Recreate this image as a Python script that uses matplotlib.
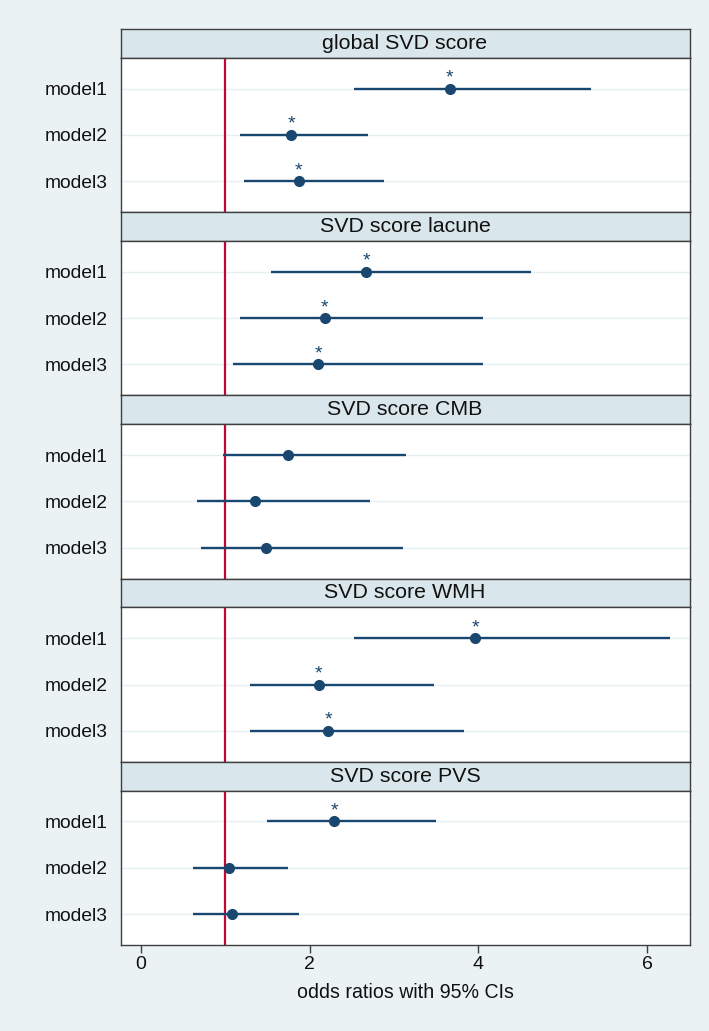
import matplotlib
matplotlib.use("Agg")
import matplotlib.pyplot as plt

plt.rcParams['font.family'] = ['Liberation Sans', 'DejaVu Sans']

# ---- data ----
panels = ["global SVD score", "SVD score lacune", "SVD score CMB",
          "SVD score WMH", "SVD score PVS"]
models = ["model1", "model2", "model3"]

or_global = [3.66, 1.78, 1.87]
lo_global = [2.52, 1.17, 1.22]
hi_global = [5.33, 2.69, 2.88]
sig_global = [True, True, True]

or_lacune = [2.67, 2.18, 2.10]
lo_lacune = [1.54, 1.18, 1.09]
hi_lacune = [4.62, 4.05, 4.05]
sig_lacune = [True, True, True]

or_cmb = [1.75, 1.35, 1.48]
lo_cmb = [0.98, 0.67, 0.71]
hi_cmb = [3.14, 2.72, 3.11]
sig_cmb = [False, False, False]

or_wmh = [3.96, 2.11, 2.22]
lo_wmh = [2.52, 1.29, 1.29]
hi_wmh = [6.27, 3.47, 3.83]
sig_wmh = [True, True, True]

or_pvs = [2.29, 1.05, 1.08]
lo_pvs = [1.50, 0.62, 0.62]
hi_pvs = [3.50, 1.75, 1.88]
sig_pvs = [True, False, False]

x_ticks = [0, 2, 4, 6]
ref_value = 1
x_label = "odds ratios with 95% CIs"

series = [
    (or_global, lo_global, hi_global, sig_global),
    (or_lacune, lo_lacune, hi_lacune, sig_lacune),
    (or_cmb, lo_cmb, hi_cmb, sig_cmb),
    (or_wmh, lo_wmh, hi_wmh, sig_wmh),
    (or_pvs, lo_pvs, hi_pvs, sig_pvs),
]

# ---- style ----
W, H = 709, 1031
BG = '#EAF2F3'
STRIP = '#D9E6EB'
NAVY = '#1A476F'
RED = '#C10534'
EDGE = '#3F3F3F'
GRID = '#E6EFF2'
TXT = '#111111'

fig = plt.figure(figsize=(W / 100, H / 100), dpi=100, facecolor=BG)

left_px, right_px = 120.5, 689.5
first_top = 29.0
period = 183.2
strip_h = 28.7

rows = [1, 2, 3]
for i, (title, (ors, los, his, sig)) in enumerate(zip(panels, series)):
    top = first_top + period * i
    # strip
    sax = fig.add_axes([left_px / W, 1 - (top + strip_h) / H,
                        (right_px - left_px) / W, strip_h / H])
    sax.set_facecolor(STRIP)
    sax.set_xticks([])
    sax.set_yticks([])
    for sp in sax.spines.values():
        sp.set_color(EDGE)
        sp.set_linewidth(1.0)
    sax.text(0.5, 0.5, title, ha='center', va='center', fontsize=15.4,
             color=TXT, transform=sax.transAxes)

    # plot area
    ax = fig.add_axes([left_px / W, 1 - (top + period) / H,
                       (right_px - left_px) / W, (period - strip_h) / H])
    ax.set_facecolor('white')
    ax.set_xlim(-0.24, 6.50)
    ax.set_ylim(3.67, 0.33)
    for r in rows:
        ax.axhline(r, color=GRID, lw=1.0, zorder=0)
    ax.axvline(ref_value, color=RED, lw=1.6, zorder=1)
    ax.hlines(rows, los, his, color=NAVY, lw=1.7, zorder=2)
    ax.plot(ors, rows, 'o', color=NAVY, ms=7.0, zorder=3)
    for r, x, s in zip(rows, ors, sig):
        if s:
            ax.text(x, r - 0.13, '*', ha='center', va='baseline',
                    fontsize=14, color=NAVY, zorder=4)
    ax.set_yticks(rows)
    ax.set_yticklabels(models, fontsize=13.9, color=TXT)
    ax.tick_params(axis='y', length=0, pad=9)
    for sp in ax.spines.values():
        sp.set_color(EDGE)
        sp.set_linewidth(1.0)
    if i == len(panels) - 1:
        ax.set_xticks(x_ticks)
        ax.set_xticklabels([str(t) for t in x_ticks], fontsize=14,
                           color=TXT)
        ax.tick_params(axis='x', direction='out', length=6, width=1,
                       color=EDGE, pad=2)
        ax.set_xlabel(x_label, fontsize=14.1, color=TXT, labelpad=7)
    else:
        ax.set_xticks([])

fig.savefig('out.png', dpi=100, facecolor=BG)
